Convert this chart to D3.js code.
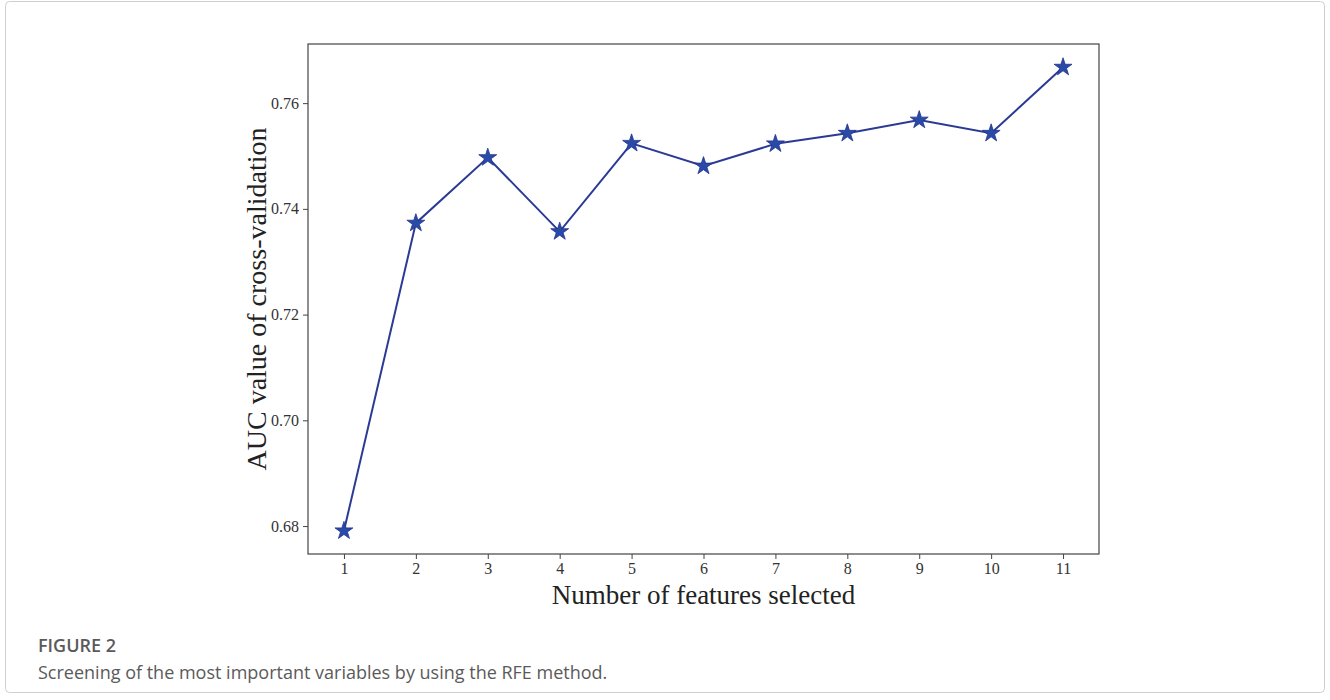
<!DOCTYPE html>
<html>
<head>
<meta charset="utf-8">
<script src="https://cdn.jsdelivr.net/npm/d3@7/dist/d3.min.js"></script>
<style>
  html, body { margin: 0; padding: 0; background: #ffffff; }
  svg { display: block; }
</style>
</head>
<body>
<svg id="chart" width="1330" height="700"></svg>
<script>
// ---- data ----
const featureCounts = [1, 2, 3, 4, 5, 6, 7, 8, 9, 10, 11];
const aucValues = [0.6791, 0.7373, 0.7497, 0.7357, 0.7524, 0.7481, 0.7523, 0.7543, 0.7568, 0.7543, 0.7668];
const yTicks = [0.68, 0.70, 0.72, 0.74, 0.76];
const xTicks = [1, 2, 3, 4, 5, 6, 7, 8, 9, 10, 11];
const xLabel = "Number of features selected";
const yLabel = "AUC value of cross-validation";
const figureTitle = "FIGURE 2";
const figureCaption = "Screening of the most important variables by using the RFE method.";

const svg = d3.select("#chart");

// outer page frame
svg.append("rect")
  .attr("x", 5.5).attr("y", 1.5).attr("width", 1319).attr("height", 691)
  .attr("rx", 4)
  .attr("fill", "none").attr("stroke", "#cfcfcf").attr("stroke-width", 1);

const plot = { left: 308, right: 1099, top: 44, bottom: 554 };

const pad = (d3.max(aucValues) - d3.min(aucValues)) * 0.05;
const x = d3.scaleLinear().domain([0.5, 11.5]).range([plot.left, plot.right]);
const y = d3.scaleLinear()
  .domain([d3.min(aucValues) - pad, d3.max(aucValues) + pad])
  .range([plot.bottom, plot.top]);

const serif = "'Liberation Serif', 'Times New Roman', serif";

// axes
const xAxis = svg.append("g")
  .attr("transform", `translate(0,${plot.bottom})`)
  .call(d3.axisBottom(x).tickValues(xTicks).tickSize(5).tickPadding(4).tickFormat(d3.format("d")));
const yAxis = svg.append("g")
  .attr("transform", `translate(${plot.left},0)`)
  .call(d3.axisLeft(y).tickValues(yTicks).tickSize(5).tickPadding(4).tickFormat(d3.format(".2f")));

[xAxis, yAxis].forEach(g => {
  g.select(".domain").remove();
  g.selectAll(".tick line").attr("stroke", "#444").attr("stroke-width", 1);
  g.selectAll(".tick text")
    .attr("fill", "#333")
    .style("font-family", serif)
    .style("font-size", "16px");
});

// frame (spines)
svg.append("rect")
  .attr("x", plot.left).attr("y", plot.top)
  .attr("width", plot.right - plot.left).attr("height", plot.bottom - plot.top)
  .attr("fill", "none").attr("stroke", "#444").attr("stroke-width", 1.2);

// line
const line = d3.line().x((d, i) => x(featureCounts[i])).y(d => y(d));
svg.append("path")
  .datum(aucValues)
  .attr("d", line)
  .attr("fill", "none")
  .attr("stroke", "#2b3a94")
  .attr("stroke-width", 2);

// star markers
const star = d3.symbol().type(d3.symbolStar).size(100);
svg.append("g").selectAll("path")
  .data(aucValues)
  .join("path")
  .attr("d", star)
  .attr("transform", (d, i) => `translate(${x(featureCounts[i])},${y(d)})`)
  .attr("fill", "#2a4aa8")
  .attr("stroke", "#23358a")
  .attr("stroke-width", 0.8);

// axis labels
svg.append("text")
  .attr("x", (plot.left + plot.right) / 2)
  .attr("y", 604)
  .attr("text-anchor", "middle")
  .style("font-family", serif)
  .style("font-size", "27px")
  .attr("fill", "#222")
  .text(xLabel);

svg.append("text")
  .attr("transform", `translate(266,${(plot.top + plot.bottom) / 2}) rotate(-90)`)
  .attr("text-anchor", "middle")
  .style("font-family", serif)
  .style("font-size", "28px")
  .attr("fill", "#222")
  .text(yLabel);

// caption
svg.append("text")
  .attr("x", 38).attr("y", 652)
  .style("font-family", "'Open Sans', 'Noto Sans', sans-serif")
  .style("font-size", "18px")
  .style("font-weight", "600")
  .attr("fill", "#5a5a5a")
  .text(figureTitle);

svg.append("text")
  .attr("x", 38).attr("y", 679)
  .style("font-family", "'Open Sans', 'Noto Sans', sans-serif")
  .style("font-size", "18px")
  .attr("fill", "#5a5a5a")
  .text(figureCaption);
</script>
</body>
</html>
